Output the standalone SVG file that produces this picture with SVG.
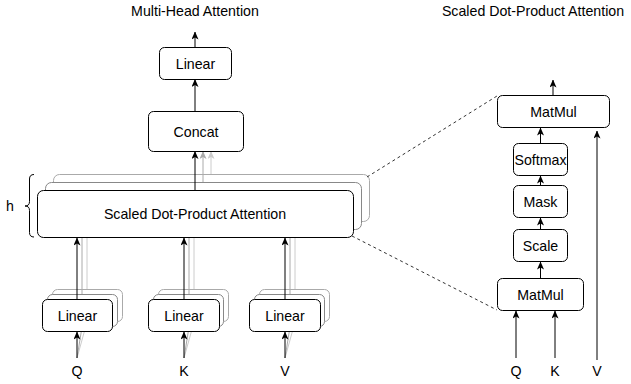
<svg xmlns="http://www.w3.org/2000/svg" width="631" height="384" viewBox="0 0 631 384">
<style>
text{font-family:"Liberation Sans",Arial,sans-serif;font-size:14.2px;fill:#000;text-anchor:middle}
.box{fill:#fff;stroke:#000;stroke-width:1}
.b2{fill:#fff;stroke:#888;stroke-width:1}
.b3{fill:#fff;stroke:#aaa;stroke-width:1}
.ln{stroke:#000;stroke-width:1;fill:none}
.g2{stroke:#aaa;stroke-width:1;fill:none}
.g3{stroke:#ccc;stroke-width:1;fill:none}
.dash{stroke:#333;stroke-width:1;stroke-dasharray:3 3;fill:none}
</style>
<defs>
<marker id="ah" viewBox="0 0 8 7" refX="7.5" refY="3.5" markerWidth="8" markerHeight="7" markerUnits="userSpaceOnUse" orient="auto"><path d="M0,0 L8,3.5 L0,7 L2,3.5 z" fill="#000"/></marker>
<marker id="ah2" viewBox="0 0 8 7" refX="7.5" refY="3.5" markerWidth="8" markerHeight="7" markerUnits="userSpaceOnUse" orient="auto"><path d="M0,0 L8,3.5 L0,7 L2,3.5 z" fill="#aaa"/></marker>
<marker id="ah3" viewBox="0 0 8 7" refX="7.5" refY="3.5" markerWidth="8" markerHeight="7" markerUnits="userSpaceOnUse" orient="auto"><path d="M0,0 L8,3.5 L0,7 L2,3.5 z" fill="#ccc"/></marker>
</defs>

<text x="195" y="16">Multi-Head Attention</text>
<text x="533" y="16">Scaled Dot-Product Attention</text>

<g id="linearQ-back"><rect class="b3" x="52.5" y="289.5" width="70" height="32" rx="5"/><rect class="b2" x="47.5" y="294.5" width="70" height="32" rx="5"/></g>
<g id="linearK-back"><rect class="b3" x="158.5" y="289.5" width="70" height="32" rx="5"/><rect class="b2" x="153.5" y="294.5" width="70" height="32" rx="5"/></g>
<g id="linearV-back"><rect class="b3" x="259.5" y="289.5" width="70" height="32" rx="5"/><rect class="b2" x="254.5" y="294.5" width="70" height="32" rx="5"/></g>

<g id="sdpa-back"><rect class="b3" x="53.5" y="174.5" width="316" height="47" rx="6"/><rect class="b2" x="45.5" y="182.5" width="316" height="47" rx="6"/></g>

<g id="connectors">
<line class="ln" x1="195" y1="47" x2="195" y2="32" marker-end="url(#ah)"/>
<line class="ln" x1="195" y1="111" x2="195" y2="79.5" marker-end="url(#ah)"/>
<line class="g3" x1="211" y1="174" x2="211" y2="151.5" marker-end="url(#ah3)"/>
<line class="g2" x1="203" y1="182" x2="203" y2="151.5" marker-end="url(#ah2)"/>
<line class="ln" x1="195" y1="190" x2="195" y2="151.5" marker-end="url(#ah)"/>

<line class="g3" x1="87" y1="289" x2="87" y2="222"/>
<line class="g2" x1="82" y1="294" x2="82" y2="230"/>
<line class="g3" x1="194" y1="289" x2="194" y2="222"/>
<line class="g2" x1="189" y1="294" x2="189" y2="230"/>
<line class="g3" x1="295" y1="289" x2="295" y2="222"/>
<line class="g2" x1="290" y1="294" x2="290" y2="230"/>
<line class="ln" x1="77" y1="299" x2="77" y2="238" marker-end="url(#ah)"/>
<line class="ln" x1="184" y1="299" x2="184" y2="238" marker-end="url(#ah)"/>
<line class="ln" x1="285" y1="299" x2="285" y2="238" marker-end="url(#ah)"/>

<line class="g3" x1="77" y1="358" x2="87" y2="322"/>
<line class="g2" x1="77" y1="358" x2="82" y2="327"/>
<line class="ln" x1="77" y1="358" x2="77" y2="332" marker-end="url(#ah)"/>
<line class="g3" x1="184" y1="358" x2="194" y2="322"/>
<line class="g2" x1="184" y1="358" x2="189" y2="327"/>
<line class="ln" x1="184" y1="358" x2="184" y2="332" marker-end="url(#ah)"/>
<line class="g3" x1="285" y1="358" x2="295" y2="322"/>
<line class="g2" x1="285" y1="358" x2="290" y2="327"/>
<line class="ln" x1="285" y1="358" x2="285" y2="332" marker-end="url(#ah)"/>

<line class="ln" x1="553" y1="95" x2="553" y2="80" marker-end="url(#ah)"/>
<line class="ln" x1="540.5" y1="143" x2="540.5" y2="128" marker-end="url(#ah)"/>
<line class="ln" x1="540.5" y1="185" x2="540.5" y2="176" marker-end="url(#ah)"/>
<line class="ln" x1="540.5" y1="229" x2="540.5" y2="218" marker-end="url(#ah)"/>
<line class="ln" x1="540.5" y1="278" x2="540.5" y2="262" marker-end="url(#ah)"/>
<line class="ln" x1="516" y1="358" x2="516" y2="311" marker-end="url(#ah)"/>
<line class="ln" x1="555" y1="358" x2="555" y2="311" marker-end="url(#ah)"/>
<line class="ln" x1="597" y1="360" x2="597" y2="131" marker-end="url(#ah)"/>

<line class="dash" x1="367" y1="177" x2="497" y2="96"/>
<line class="dash" x1="352" y1="236" x2="497" y2="310"/>
</g>

<g id="linear-top"><rect class="box" x="159.5" y="47.5" width="72" height="32" rx="5"/><text x="195.5" y="68.5">Linear</text></g>
<g id="concat"><rect class="box" x="148.5" y="111.5" width="95" height="40" rx="5"/><text x="196" y="136.5">Concat</text></g>
<g id="sdpa"><rect class="box" x="37.5" y="190.5" width="316" height="47" rx="6"/><text x="195" y="219">Scaled Dot-Product Attention</text></g>
<g id="brace"><path class="ln" d="M34,174.5 Q29.5,174.5 29.5,179 L29.5,201.5 Q29.5,206 25,206 Q29.5,206 29.5,210.5 L29.5,232.5 Q29.5,237 34,237"/><text x="10" y="211">h</text></g>

<g id="linearQ"><rect class="box" x="42.5" y="299.5" width="70" height="32" rx="5"/><text x="77.5" y="320.5">Linear</text></g>
<g id="linearK"><rect class="box" x="148.5" y="299.5" width="71" height="32" rx="5"/><text x="184" y="320.5">Linear</text></g>
<g id="linearV"><rect class="box" x="249.5" y="299.5" width="71" height="32" rx="5"/><text x="285" y="320.5">Linear</text></g>
<g id="labels-left"><text x="77" y="376">Q</text><text x="184" y="376">K</text><text x="285" y="376">V</text></g>

<g id="matmul-top"><rect class="box" x="497.5" y="95.5" width="112" height="32" rx="5"/><text x="553.5" y="116.5">MatMul</text></g>
<g id="softmax"><rect class="box" x="513.5" y="143.5" width="54" height="32" rx="5"/><text x="540.5" y="164.5">Softmax</text></g>
<g id="mask"><rect class="box" x="513.5" y="185.5" width="54" height="32" rx="5"/><text x="540.5" y="206.5">Mask</text></g>
<g id="scale"><rect class="box" x="513.5" y="229.5" width="54" height="32" rx="5"/><text x="540.5" y="250.5">Scale</text></g>
<g id="matmul-bottom"><rect class="box" x="497.5" y="278.5" width="86" height="32" rx="5"/><text x="540.5" y="299.5">MatMul</text></g>
<g id="labels-right"><text x="516" y="376">Q</text><text x="555" y="376">K</text><text x="597" y="376">V</text></g>
</svg>
